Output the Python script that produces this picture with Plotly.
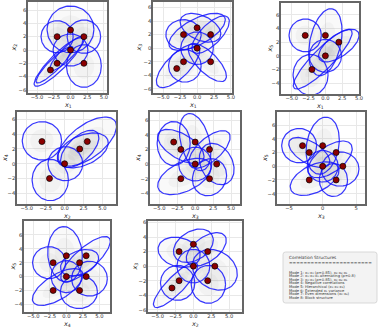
import numpy as np
import plotly.graph_objects as go

W, H = 381, 329

# axis labels of each panel (x index, y index)
PAIRS = [(1, 2), (1, 3), (1, 5), (2, 4), (3, 4), (3, 5), (4, 5), (2, 3)]

# mode means seen in each panel
P1_MEANS = [(0, 3), (-2, 2), (2, 2), (0, 0), (-2, -2), (2, -2), (-3, -3)]
P2_MEANS = [(0, 3), (-2, 2), (2, 2), (0, 0), (-2, -2), (2, -2), (-3, -3)]
P3_MEANS = [(-3, 3), (0, 3), (2, 2), (0, 0), (-2, -2)]
P4_MEANS = [(-3, 3), (2, 2), (3, 3), (0, 0), (-2, -2)]
P5_MEANS = [(-3, 3), (-2, 2), (0, 3), (2, 2), (0, 0), (3, 0), (-2, -2), (2, -2)]
P6_MEANS = [(-3, 3), (-2, 2), (0, 3), (2, 2), (0, 0), (3, 0), (-2, -2), (2, -2)]
P7_MEANS = [(-2, 2), (0, 3), (2, 2), (3, 3), (0, 0), (3, 0), (-2, -2), (2, -2)]
P8_MEANS = [(-2, 2), (0, 3), (2, 2), (0, 0), (3, 0), (-3, -3), (-2, -2), (2, -2)]

# covariance ellipses: (cx, cy, semi-axis a, semi-axis b, angle deg)
P1_ELL = [(0, 3.1, 3.5, 3.5, 0), (-2, 2, 2.4, 2.4, 0), (2, 2, 2.5, 2.5, 0),
          (0, 0, 2.6, 2.4, 0), (2, -2.4, 2.6, 3.2, 0),
          (-1.8, -1.8, 5.0, 1.2, 45), (-2.4, -2.2, 3.8, 0.85, 45), (-0.5, -0.5, 3.6, 0.9, 45)]
P2_ELL = [(0, 2.4, 4.6, 1.9, 28), (2, 2, 3.6, 1.5, 45), (-2, 2, 2.6, 2.2, 0),
          (0, 0, 2.4, 2.4, 0), (-2.8, -2.6, 4.2, 1.7, 45), (-1.8, -2.6, 2.4, 2.4, 0),
          (1.5, -2.1, 3.7, 1.5, -45), (0.5, 3, 3.2, 1.8, -25)]
P3_ELL = [(-3, 3, 2.4, 2.4, 0), (0, 2, 5.0, 2.3, 78), (-0.4, -0.5, 6.0, 1.5, 45),
          (2, 1.5, 3.5, 1.6, 35), (-2.2, -2.8, 2.6, 3.0, 0), (0, 0, 2.4, 2.4, 0)]
P4_ELL = [(-3, 3.1, 2.6, 2.6, 0), (-1.9, -2.2, 2.4, 2.8, 0), (0.1, 0, 2.3, 2.3, 0),
          (3, 3, 4.6, 2.2, 38), (2, 2, 3.2, 1.6, 45), (2.4, 1.8, 3.6, 2.0, 25)]
P5_ELL = [(-3, 2.8, 2.3, 3.0, 0), (0, 3, 4.0, 2.0, 105), (2, 2, 3.5, 1.6, 40),
          (-2, 2.4, 3.6, 1.7, -30), (3, 0, 3.0, 2.2, -60), (-1.5, -1.7, 4.0, 2.0, 25),
          (2, -1.8, 2.6, 2.3, 60), (0, 0, 2.3, 2.3, 0)]
P6_ELL = [(0, 3, 4.2, 2.4, 80), (-3.5, 3, 2.6, 2.5, 0), (-2, 2, 3.4, 1.6, -30),
          (1.1, 1.0, 3.8, 1.9, 35), (2.6, -0.4, 2.8, 2.5, 0), (-1.2, -1.8, 3.9, 2.0, 25),
          (1.6, -2, 2.1, 2.4, 0), (0, 0, 2.3, 2.3, 0)]
P7_ELL = [(-0.2, 3.2, 4.0, 2.6, 95), (-2.6, 2, 2.5, 2.3, 0), (2.9, 2.5, 4.7, 1.6, 40),
          (2, 2, 3.0, 1.7, 20), (3.5, -0.3, 2.7, 2.5, 0), (-1.3, -1.5, 4.3, 1.8, 30),
          (1.9, -2.2, 2.8, 2.4, 0), (0, 0, 2.3, 2.3, 0)]
P8_ELL = [(-2, 1.9, 3.0, 2.0, -15), (0, 2.8, 3.0, 2.0, 30), (1.8, 2.3, 3.2, 1.7, 35),
          (3, -0.5, 3.3, 2.6, -30), (0, 0, 2.3, 2.3, 0), (-2.5, -2.6, 4.2, 1.2, 45),
          (-2.2, -2.3, 2.4, 2.4, 0), (2.1, -2.5, 2.4, 2.6, 0)]

MEANS = [P1_MEANS, P2_MEANS, P3_MEANS, P4_MEANS, P5_MEANS, P6_MEANS, P7_MEANS, P8_MEANS]
ELLS = [P1_ELL, P2_ELL, P3_ELL, P4_ELL, P5_ELL, P6_ELL, P7_ELL, P8_ELL]

XT_A = [-5, -2.5, 0, 2.5, 5]
XT_A_TXT = ["−5.0", "−2.5", "0.0", "2.5", "5.0"]
XT_B = [-5, 0, 5]
XT_B_TXT = ["−5", "0", "5"]
YT_A = [-6, -4, -2, 0, 2, 4, 6]
YT_B = [-4, -2, 0, 2, 4, 6]

LEGEND_TITLE = "Correlation Structures"
LEGEND_RULE = "=" * 23
LEGEND_LINES = [
    "Mode 1: x₁-x₂ (ρ=0.85), x₃-x₄-x₅",
    "Mode 2: x₁-x₃-x₅ alternating (ρ=0.8)",
    "Mode 3: x₂-x₃ (ρ=0.85), x₂-x₄-x₅",
    "Mode 4: Negative correlations",
    "Mode 5: Hierarchical (x₁-x₂-x₃)",
    "Mode 6: Extended x₁ variance",
    "Mode 7: Even dimensions (x₂-x₄)",
    "Mode 8: Block structure",
]

# panel pixel boxes (left, right, top, bottom) and ranges
BOXES = [(28, 107, 2, 93), (153, 232, 2, 93), (281, 359, 3, 94),
         (17, 116, 112, 204), (150, 240, 112, 204), (277, 365, 112, 204),
         (24, 110, 221, 312), (148, 242, 221, 312)]
XR = [(-6.35, 5.45), (-6.5, 5.15), (-6.6, 5.0), (-6.3, 6.8), (-6.3, 6.25),
      (-6.8, 6.3), (-6.4, 6.6), (-6.35, 6.8)]
YR = [(-6.45, 7.2), (-6.6, 6.8), (-5.6, 7.75), (-5.45, 7.0), (-5.45, 7.1),
      (-5.5, 7.9), (-5.1, 8.0), (-6.3, 6.2)]


def ellipse_xy(cx, cy, a, b, ang, scale=1.0, n=90):
    t = np.linspace(0, 2 * np.pi, n)
    th = np.radians(ang)
    x = cx + scale * (a * np.cos(t) * np.cos(th) - b * np.sin(t) * np.sin(th))
    y = cy + scale * (a * np.cos(t) * np.sin(th) + b * np.sin(t) * np.cos(th))
    return x, y


def px(x):
    return x / W


def py(y):
    return 1 - y / H


fig = go.Figure()

for i in range(8):
    xa = "x" if i == 0 else f"x{i + 1}"
    ya = "y" if i == 0 else f"y{i + 1}"
    # grey density (stands in for the sample cloud)
    for e in ELLS[i]:
        for s, alpha in [(1.05, 0.05), (0.6, 0.06)]:
            ex, ey = ellipse_xy(*e, scale=s)
            fig.add_trace(go.Scatter(x=ex, y=ey, mode="lines", fill="toself",
                                     fillcolor=f"rgba(140,140,140,{alpha})",
                                     line=dict(width=0), hoverinfo="skip",
                                     showlegend=False, xaxis=xa, yaxis=ya))
    for e in ELLS[i]:
        ex, ey = ellipse_xy(*e)
        fig.add_trace(go.Scatter(x=ex, y=ey, mode="lines",
                                 line=dict(color="rgba(20,20,255,0.85)", width=1.2),
                                 hoverinfo="skip", showlegend=False, xaxis=xa, yaxis=ya))
    mx = [m[0] for m in MEANS[i]]
    my = [m[1] for m in MEANS[i]]
    fig.add_trace(go.Scatter(x=mx, y=my, mode="markers",
                             marker=dict(size=6, color="#8b0000",
                                         line=dict(color="black", width=0.7)),
                             showlegend=False, xaxis=xa, yaxis=ya))

    l, r, t, b = BOXES[i]
    ix, iy = PAIRS[i]
    xt, xtt = (XT_B, XT_B_TXT) if i == 5 else (XT_A, XT_A_TXT)
    yt = YT_A if i in (0, 1, 7) else YT_B
    axis_common = dict(showline=True, mirror=True, linecolor="#666", linewidth=1.5,
                       showgrid=True, gridcolor="#e8e8e8", gridwidth=0.6,
                       zeroline=False, ticks="", tickangle=0, automargin=False,
                       tickfont=dict(size=5.2, color="#333"))
    fig.layout[("xaxis" if i == 0 else f"xaxis{i + 1}")] = dict(
        domain=[px(l), px(r)], range=list(XR[i]), anchor=ya,
        tickvals=xt, ticktext=xtt, ticklabelstandoff=-2, **axis_common)
    fig.layout[("yaxis" if i == 0 else f"yaxis{i + 1}")] = dict(
        domain=[py(b), py(t)], range=list(YR[i]), anchor=xa, ticklabelstandoff=-1,
        tickvals=yt, ticktext=[str(v).replace("-", "−") for v in yt], **axis_common)
    # axis labels
    fig.add_annotation(x=px((l + r) / 2), y=py(b + 12), xref="paper", yref="paper",
                       text=f"<i>x</i><sub>{ix}</sub>", showarrow=False,
                       xanchor="center", yanchor="middle",
                       font=dict(size=6.5, color="#222"))
    fig.add_annotation(x=px(l - (14 if yt is YT_A else 12)), y=py((t + b) / 2),
                       xref="paper", yref="paper",
                       text=f"<i>x</i><sub>{iy}</sub>", showarrow=False, textangle=-90,
                       xanchor="center", yanchor="middle",
                       font=dict(size=6.5, color="#222"))

# text panel with rounded corners
x0, x1, y0, y1, rr = px(283), px(377), py(303), py(252), 2.5
dx, dy = rr / W, rr / H
path = (f"M {x0 + dx},{y1} L {x1 - dx},{y1} Q {x1},{y1} {x1},{y1 - dy} "
        f"L {x1},{y0 + dy} Q {x1},{y0} {x1 - dx},{y0} L {x0 + dx},{y0} "
        f"Q {x0},{y0} {x0},{y0 + dy} L {x0},{y1 - dy} Q {x0},{y1} {x0 + dx},{y1} Z")
fig.add_shape(type="path", path=path, xref="paper", yref="paper",
              fillcolor="#f3f3f3", line=dict(color="#cfcfcf", width=0.8))
tx = px(287)
fig.add_annotation(x=tx, y=py(257), xref="paper", yref="paper", text=LEGEND_TITLE,
                   showarrow=False, xanchor="left", yanchor="middle",
                   font=dict(size=4.3, color="#333"))
fig.add_annotation(x=tx, y=py(262), xref="paper", yref="paper", text=LEGEND_RULE,
                   showarrow=False, xanchor="left", yanchor="middle",
                   font=dict(size=4.3, color="#333"))
for k, line in enumerate(LEGEND_LINES):
    fig.add_annotation(x=tx, y=py(272.5 + 3.65 * k), xref="paper", yref="paper",
                       text=line, showarrow=False, xanchor="left", yanchor="middle",
                       font=dict(size=3.7, color="#333"))

fig.update_layout(width=W, height=H, margin=dict(l=0, r=0, t=0, b=0),
                  paper_bgcolor="white", plot_bgcolor="white",
                  font=dict(family="DejaVu Sans"))

fig.write_html("out.html", config={"displayModeBar": False},
               post_script="document.body.style.margin='0';document.body.style.overflow='hidden';")
